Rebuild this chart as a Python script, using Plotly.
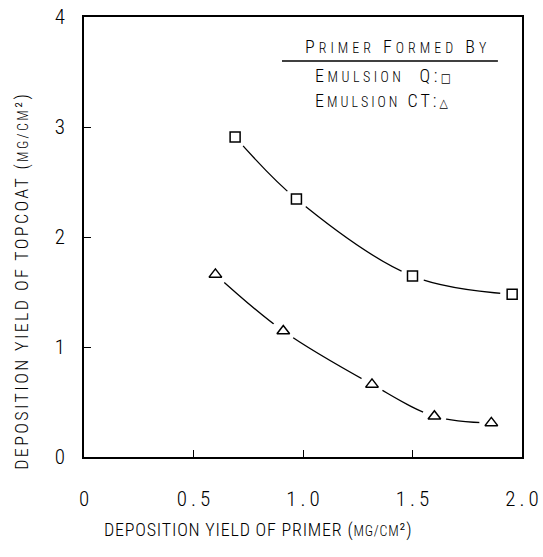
import plotly.graph_objects as go

# Data
q_x = [0.69, 0.97, 1.50, 1.955]
q_y = [2.91, 2.345, 1.645, 1.48]
ct_x = [0.60, 0.91, 1.315, 1.60, 1.86]
ct_y = [1.66, 1.145, 0.66, 0.37, 0.31]

x_ticks = [0, 0.5, 1.0, 1.5, 2.0]
x_ticktext = ["0", "0.5", "1.0", "1.5", "2.0"]
y_ticks = [0, 1, 2, 3, 4]
y_ticktext = ["0", "1", "2", "3", "4"]

FONT = "Roboto Condensed, DejaVu Sans Condensed, DejaVu Sans"
BIG = 18
SMALL = 14
WEIGHT = 300
THIN = "\u2009"


def sp(text, ls):
    return f"<span style='letter-spacing:{ls}px'>{text}</span>"


def spaced(text):
    """Widely spaced digits without trailing space."""
    return THIN.join(text)


def sc(word):
    """Small-caps imitation: first letter big, rest small."""
    return word[0] + f"<span style='font-size:{SMALL}px'>{word[1:]}</span>"


def font(size):
    return dict(family=FONT, size=size, color="black", weight=WEIGHT)


fig = go.Figure()

for xs, ys in [(q_x, q_y), (ct_x, ct_y)]:
    fig.add_trace(go.Scatter(x=xs, y=ys, mode="lines",
                             line=dict(color="black", width=1.3, shape="spline", smoothing=1.0),
                             hoverinfo="skip", showlegend=False))
    # white halo to create the gap around each marker
    fig.add_trace(go.Scatter(x=xs, y=ys, mode="markers",
                             marker=dict(color="white", size=24, line=dict(width=0)),
                             hoverinfo="skip", showlegend=False))

fig.add_trace(go.Scatter(x=q_x, y=q_y, mode="markers", name="Emulsion Q",
                         marker=dict(symbol="square", size=10, color="white",
                                     line=dict(color="black", width=1.5)),
                         showlegend=False))
fig.add_trace(go.Scatter(x=ct_x, y=ct_y, mode="markers", name="Emulsion CT",
                         marker=dict(symbol="triangle-up", size=11, color="white",
                                     line=dict(color="black", width=1.5)),
                         showlegend=False))

axis_common = dict(showgrid=False, zeroline=False, showline=True, linecolor="black",
                   linewidth=1.5, mirror=True, ticks="inside", ticklen=7,
                   tickcolor="black", tickwidth=1.3, automargin=False,
                   ticklabeloverflow="allow", tickfont=font(21))

fig.update_xaxes(range=[0, 2.0], tickvals=x_ticks,
                 ticktext=[spaced(t) for t in x_ticktext],
                 ticklabelstandoff=22, **axis_common)
fig.update_yaxes(range=[0, 4.0], tickvals=y_ticks, ticktext=y_ticktext,
                 ticklabelstandoff=13, **axis_common)

mg = f"<span style='font-size:{SMALL}px'>MG/CM</span>²"
annotations = [
    dict(x=0.397, y=-0.166, xref="paper", yref="paper", xanchor="center", yanchor="middle",
         text=sp(f"DEPOSITION YIELD OF PRIMER ({mg})", 0.8), showarrow=False,
         font=font(BIG)),
    dict(x=-0.142, y=0.40, xref="paper", yref="paper", textangle=-90,
         xanchor="center", yanchor="middle",
         text=sp(f"DEPOSITION YIELD OF TOPCOAT ({mg})", 2.4), showarrow=False,
         font=font(BIG)),
    dict(x=0.716, y=0.934, xref="paper", yref="paper", xanchor="center", yanchor="middle",
         text=sp(" ".join(sc(w) for w in ["PRIMER", "FORMED", "BY"]), 4), showarrow=False,
         font=font(BIG)),
    dict(x=0.523, y=0.866, xref="paper", yref="paper", xanchor="left", yanchor="middle",
         text=sp(sc("EMULSION") + "  Q:<span style='font-size:12px'>□</span>", 3.5),
         showarrow=False, font=font(BIG)),
    dict(x=0.523, y=0.811, xref="paper", yref="paper", xanchor="left", yanchor="middle",
         text=sp(sc("EMULSION") + " CT:<span style='font-size:12px'>△</span>", 3),
         showarrow=False, font=font(BIG)),
]

fig.update_layout(
    width=543, height=557,
    margin=dict(l=84, r=21, t=17, b=100),
    paper_bgcolor="white", plot_bgcolor="white",
    annotations=annotations,
    shapes=[dict(type="line", xref="paper", yref="paper", x0=0.452, x1=0.945,
                 y0=0.90, y1=0.90, line=dict(color="black", width=1.3))],
)

fig.write_html("out.html")
